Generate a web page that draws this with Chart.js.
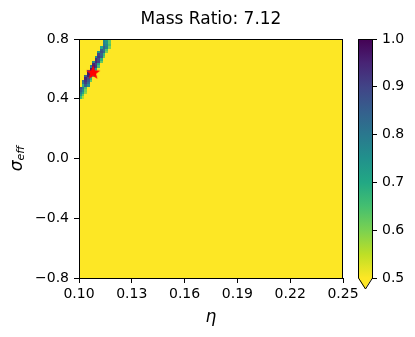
<!DOCTYPE html>
<html>
<head>
<meta charset="utf-8">
<script src="https://cdn.jsdelivr.net/npm/chart.js@4.4.1/dist/chart.umd.min.js"></script>
<style>
  html, body { margin: 0; padding: 0; background: #fff; }
  #wrap { width: 415px; height: 337px; }
</style>
</head>
<body>
<div id="wrap"><canvas id="chart" width="415" height="337"></canvas></div>
<script>
// Marcações dos eixos
const xTicks = [0.10, 0.13, 0.16, 0.19, 0.22, 0.25];
const yTicks = [-0.8, -0.4, 0.0, 0.4, 0.8];
const cbTicks = [0.5, 0.6, 0.7, 0.8, 0.9, 1.0];

// Faixa colorida do mapa, linha a linha (de cima para baixo)
const bandSigmaTop = [0.800, 0.784, 0.768, 0.752, 0.736, 0.720, 0.704, 0.688, 0.672, 0.656,
                      0.640, 0.624, 0.608, 0.592, 0.576, 0.560, 0.544, 0.528, 0.512, 0.496,
                      0.480, 0.464, 0.448, 0.432, 0.416];
const bandEtaStart = [0.1135, 0.1135, 0.1135, 0.1120, 0.1120, 0.1105, 0.1105, 0.1090, 0.1090, 0.1075,
                      0.1075, 0.1060, 0.1060, 0.1045, 0.1045, 0.1030, 0.1030, 0.1015, 0.1015, 0.1015,
                      0.1000, 0.1000, 0.1000, 0.1000, 0.1000];
const bandValues = [
    [0.76, 0.72, 0.62],
    [0.78, 0.74, 0.62],
    [0.80, 0.76, 0.64],
    [0.70, 0.84, 0.78, 0.60],
    [0.86, 0.80, 0.64],
    [0.74, 0.88, 0.82, 0.60],
    [0.90, 0.84, 0.66],
    [0.76, 0.92, 0.86, 0.62],
    [0.93, 0.88, 0.68],
    [0.78, 0.94, 0.90, 0.62],
    [0.95, 0.90, 0.70],
    [0.80, 0.96, 0.92, 0.64],
    [0.97, 0.92, 0.72],
    [0.82, 0.98, 0.93, 0.64],
    [0.97, 0.92, 0.70],
    [0.84, 0.96, 0.90, 0.64],
    [0.95, 0.88, 0.68],
    [0.82, 0.93, 0.86, 0.62],
    [0.80, 0.91, 0.82],
    [0.68, 0.86, 0.76],
    [0.88, 0.80, 0.64],
    [0.85, 0.76, 0.60],
    [0.80, 0.70, 0.58],
    [0.74, 0.62],
    [0.66, 0.56]
];

// Ponto marcado (estrela)
const starEta = [0.108];
const starSigma = [0.574];

// Tamanho de cada célula da grade
const cellEta = 0.0015;
const cellSigma = 0.016;
const cbMin = 0.5, cbMax = 1.0;

// Viridis (invertido no mapa de cores)
const viridis = ['#440154', '#482475', '#414487', '#355f8d', '#2a788e', '#21918c',
                 '#22a884', '#44bf70', '#7ad151', '#bddf26', '#fde725'];

function hexRgb(h) {
    return [parseInt(h.slice(1, 3), 16), parseInt(h.slice(3, 5), 16), parseInt(h.slice(5, 7), 16)];
}

function cmap(v) {
    let t = 1 - (v - cbMin) / (cbMax - cbMin);
    t = Math.min(1, Math.max(0, t));
    const p = t * 10;
    const i = Math.min(9, Math.floor(p));
    const f = p - i;
    const a = hexRgb(viridis[i]), b = hexRgb(viridis[i + 1]);
    const c = a.map((ch, k) => Math.round(ch + (b[k] - ch) * f));
    return `rgb(${c[0]}, ${c[1]}, ${c[2]})`;
}

function makeStar(size, color) {
    const c = document.createElement('canvas');
    c.width = c.height = size;
    const g = c.getContext('2d');
    const cx = size / 2, R = size / 2 - 0.5, r = R * 0.42;
    g.beginPath();
    for (let i = 0; i < 10; i++) {
        const ang = -Math.PI / 2 + i * Math.PI / 5;
        const rad = i % 2 ? r : R;
        g.lineTo(cx + rad * Math.cos(ang), cx + rad * Math.sin(ang));
    }
    g.closePath();
    g.fillStyle = color;
    g.fill();
    return c;
}

// Desenha as células e a moldura
const heatmapPlugin = {
    id: 'heatmap',
    beforeDatasetsDraw(chart) {
        const { ctx, chartArea: a, scales: { x, y } } = chart;
        ctx.save();
        ctx.beginPath();
        ctx.rect(a.left, a.top, a.width, a.height);
        ctx.clip();
        ctx.fillStyle = cmap(cbMin);
        ctx.fillRect(a.left, a.top, a.width, a.height);
        bandValues.forEach((row, k) => {
            const y0 = Math.round(y.getPixelForValue(bandSigmaTop[k]));
            const y1 = Math.round(y.getPixelForValue(bandSigmaTop[k] - cellSigma));
            row.forEach((v, i) => {
                const e = bandEtaStart[k] + i * cellEta;
                const x0 = Math.round(x.getPixelForValue(e));
                const x1 = Math.round(x.getPixelForValue(e + cellEta));
                ctx.fillStyle = cmap(v);
                ctx.fillRect(x0, y0, x1 - x0, y1 - y0);
            });
        });
        ctx.restore();

        ctx.save();
        ctx.strokeStyle = '#000';
        ctx.lineWidth = 1;
        ctx.strokeRect(a.left + 0.5, a.top + 0.5, a.width - 1, a.height);
        ctx.restore();
    },
    afterDraw(chart) {
        const { ctx } = chart;
        const cb = chart.scales.cb;

        // Barra de cores
        const top = cb.getPixelForValue(cbMax);
        const bottom = cb.getPixelForValue(cbMin);
        const right = cb.left, left = right - 14, mid = (left + right) / 2;
        const grad = ctx.createLinearGradient(0, bottom, 0, top);
        viridis.slice().reverse().forEach((c, i) => grad.addColorStop(i / 10, c));
        ctx.save();
        ctx.fillStyle = grad;
        ctx.fillRect(left, top, right - left, bottom - top);
        ctx.beginPath();
        ctx.moveTo(left, bottom);
        ctx.lineTo(right, bottom);
        ctx.lineTo(mid, bottom + 11);
        ctx.closePath();
        ctx.fillStyle = cmap(cbMin);
        ctx.fill();
        ctx.beginPath();
        ctx.moveTo(left + 0.5, top + 0.5);
        ctx.lineTo(right + 0.5, top + 0.5);
        ctx.lineTo(right + 0.5, bottom);
        ctx.lineTo(mid + 0.5, bottom + 11);
        ctx.lineTo(left + 0.5, bottom);
        ctx.closePath();
        ctx.strokeStyle = '#000';
        ctx.lineWidth = 1;
        ctx.stroke();
        ctx.restore();

        // Rótulo do eixo y com subscrito
        ctx.save();
        ctx.translate(22, (chart.chartArea.top + chart.chartArea.bottom) / 2);
        ctx.rotate(-Math.PI / 2);
        ctx.fillStyle = '#000';
        ctx.textBaseline = 'alphabetic';
        ctx.font = 'italic 17px "DejaVu Sans"';
        const w1 = ctx.measureText('σ').width;
        ctx.font = 'italic 11px "DejaVu Sans"';
        const w2 = ctx.measureText('eff').width;
        const start = -(w1 + w2) / 2;
        ctx.font = 'italic 17px "DejaVu Sans"';
        ctx.fillText('σ', start, 0);
        ctx.font = 'italic 11px "DejaVu Sans"';
        ctx.fillText('eff', start + w1, 2);
        ctx.restore();
    }
};

Chart.defaults.font.family = '"DejaVu Sans", sans-serif';
Chart.defaults.font.size = 14;
Chart.defaults.color = '#000';

const tickGrid = { display: true, drawOnChartArea: false, drawTicks: true, tickLength: 5, color: '#000' };
const minus = v => String(v).replace('-', '\u2212');

new Chart(document.getElementById('chart'), {
    type: 'scatter',
    data: {
        datasets: [{
            data: starEta.map((e, i) => ({ x: e, y: starSigma[i] })),
            pointStyle: makeStar(16, '#ff0000'),
            xAxisID: 'x',
            yAxisID: 'y'
        }]
    },
    options: {
        responsive: false,
        animation: false,
        layout: { padding: 0 },
        plugins: {
            legend: { display: false },
            tooltip: { enabled: false },
            title: {
                display: true,
                text: 'Mass Ratio: 7.12',
                fullSize: false,
                color: '#000',
                font: { size: 17, weight: 'normal' },
                padding: { top: 9, bottom: 9.6 }
            }
        },
        scales: {
            x: {
                type: 'linear',
                position: 'bottom',
                min: 0.10,
                max: 0.25,
                afterBuildTicks: s => { s.ticks = xTicks.map(v => ({ value: v })); },
                afterFit: s => { s.height = 59; },
                ticks: { padding: 3, maxRotation: 0, callback: v => Number(v).toFixed(2) },
                grid: tickGrid,
                border: { display: true, color: '#000', width: 1 },
                title: {
                    display: true,
                    text: 'η',
                    color: '#000',
                    font: { size: 17, style: 'italic' },
                    padding: { top: 0, bottom: 9 }
                }
            },
            y: {
                type: 'linear',
                position: 'left',
                min: -0.8,
                max: 0.8,
                afterBuildTicks: s => { s.ticks = yTicks.map(v => ({ value: v })); },
                afterFit: s => { s.width = 79; },
                ticks: { padding: 5, callback: v => minus(Number(v).toFixed(1)) },
                grid: tickGrid,
                border: { display: true, color: '#000', width: 1 }
            },
            gap: {
                type: 'linear',
                position: 'right',
                weight: 0,
                display: true,
                afterFit: s => { s.width = 29; },
                ticks: { display: false },
                grid: { display: false },
                border: { display: false }
            },
            cb: {
                type: 'linear',
                position: 'right',
                weight: 1,
                min: cbMin,
                max: cbMax,
                afterBuildTicks: s => { s.ticks = cbTicks.map(v => ({ value: v })); },
                afterFit: s => { s.width = 43; },
                ticks: { padding: 5, callback: v => Number(v).toFixed(1) },
                grid: tickGrid,
                border: { display: true, color: '#000', width: 1 }
            }
        }
    },
    plugins: [heatmapPlugin]
});
</script>
</body>
</html>
